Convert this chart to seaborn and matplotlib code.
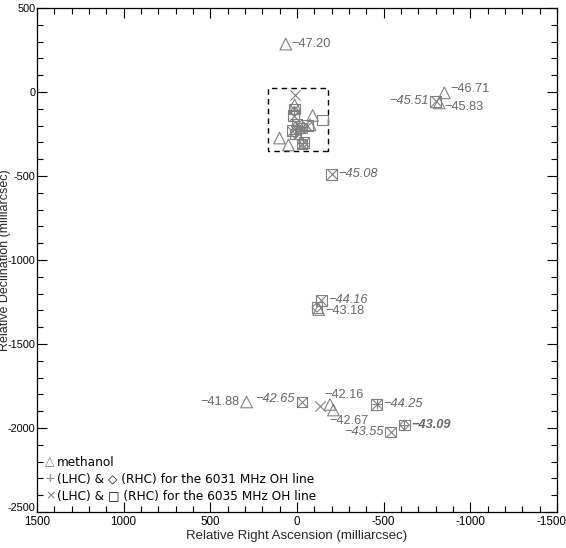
import numpy as np
import pandas as pd
import matplotlib
matplotlib.use("Agg")
import matplotlib.pyplot as plt
import seaborn as sns
from matplotlib.patches import Rectangle
from matplotlib.ticker import MultipleLocator
from matplotlib.transforms import ScaledTranslation

sns.set_theme(style="ticks")
plt.rcParams['font.family'] = ['Liberation Sans', 'DejaVu Sans']
plt.rcParams['axes.unicode_minus'] = False

GREY = '#808080'
TXT = '#666666'

# ---- methanol maser spots (triangles)
meth_x = [65, -850, -820, -125, 291, -190, -210, 14, -90, -75, 101, 49]
meth_y = [285, -5, -65, -1295, -1845, -1860, -1893, -77, -140, -195, -274, -315]

# ---- 6031 MHz OH: LHC (+) and RHC (diamond)
oh31_l_x = [-459, -620, 15, 5, -20, -40, 10, -35]
oh31_l_y = [-1860, -1982, -115, -205, -230, -210, -250, -305]
oh31_r_x = [-115, -620, 15, 5, -20, -40, 10, -35]
oh31_r_y = [-1282, -1982, -115, -205, -230, -210, -250, -305]

# ---- 6035 MHz OH: LHC (x) and RHC (square)
oh35_l_x = [9, -800, -200, -141, -29, -130, -459, -540, 15, 20, 0, -25, 30, -60, -40, -30]
oh35_l_y = [-18, -55, -490, -1240, -1845, -1869, -1860, -2024, -100, -140, -190, -215, -230, -200, -300, -310]
oh35_r_x = [-147, -800, -200, -141, -115, -29, -459, -540, -620, 15, 20, 0, -25, 30, -60, -40, -30, 10]
oh35_r_y = [-167, -55, -490, -1240, -1282, -1845, -1860, -2024, -1982, -100, -140, -190, -215, -230, -200, -300, -310, -250]

# ---- labels: text, x, y, dx, dy (points), ha, style, weight
lab_text = ['−47.20', '−46.71', '−45.83', '−45.51', '−45.08', '−44.16', '−43.18',
            '−41.88', '−42.65', '−42.16', '−42.67', '−43.55', '−44.25', '−43.09']
lab_x = [65, -850, -820, -800, -200, -141, -125, 291, -29, -190, -210, -540, -459, -620]
lab_y = [285, -5, -65, -55, -490, -1240, -1295, -1845, -1845, -1860, -1893, -2024, -1860, -1982]
lab_dx = [4, 4, 4, -5, 5, 5, 5, -5, -5, -4, -3, -5, 5, 5]
lab_dy = [0, 3, -3, 0, 0, 0, -1, 0, 2, 7, -8, 0, 0, 0]
lab_ha = ['left', 'left', 'left', 'right', 'left', 'left', 'left', 'right', 'right',
          'left', 'left', 'right', 'left', 'left']
lab_style = ['normal', 'normal', 'normal', 'italic', 'italic', 'italic', 'normal',
             'normal', 'italic', 'normal', 'normal', 'italic', 'italic', 'italic']
lab_weight = ['normal'] * 13 + ['bold']

# dashed box around central cluster
box_x0, box_x1 = 165, -180
box_y0, box_y1 = -350, 25

fig = plt.figure(figsize=(5.66, 5.48), dpi=100)
ax = fig.add_axes([37/566, 1 - 512/548, 520/566, 504/548])

lw = 0.8
sns.scatterplot(x=meth_x, y=meth_y, marker='^', s=70, facecolor='none',
                edgecolor=GREY, linewidth=lw, ax=ax, zorder=3)
sns.scatterplot(x=oh35_r_x, y=oh35_r_y, marker='s', s=58, facecolor='none',
                edgecolor=GREY, linewidth=lw, ax=ax, zorder=3)
sns.scatterplot(x=oh35_l_x, y=oh35_l_y, marker='x', s=55, color=GREY,
                linewidth=lw, ax=ax, zorder=3)
sns.scatterplot(x=oh31_r_x, y=oh31_r_y, marker='D', s=24, facecolor='none',
                edgecolor=GREY, linewidth=lw, ax=ax, zorder=3)
sns.scatterplot(x=oh31_l_x, y=oh31_l_y, marker='+', s=55, color=GREY,
                linewidth=lw, ax=ax, zorder=3)

for t, x, y, dx, dy, ha, st, wt in zip(lab_text, lab_x, lab_y, lab_dx, lab_dy,
                                        lab_ha, lab_style, lab_weight):
    ax.annotate(t, (x, y), xytext=(dx, dy), textcoords='offset points',
                ha=ha, va='center', fontsize=9.2, color=TXT, style=st, weight=wt)

ax.add_patch(Rectangle((box_x1, box_y0), box_x0 - box_x1, box_y1 - box_y0,
                       fill=False, edgecolor='black', linewidth=1.0,
                       linestyle=(0, (4, 3)), zorder=2))

ax.set_xlim(1500, -1500)
ax.set_ylim(-2500, 500)
ax.xaxis.set_major_locator(MultipleLocator(500))
ax.yaxis.set_major_locator(MultipleLocator(500))
ax.xaxis.set_minor_locator(MultipleLocator(100))
ax.yaxis.set_minor_locator(MultipleLocator(100))
ax.tick_params(which='both', direction='in', top=True, right=True,
               width=0.8, colors='black')
ax.tick_params(axis='y', pad=1.2, labelsize=7.8)
ax.tick_params(axis='x', pad=3, labelsize=8.4)
ax.tick_params(which='major', length=7)
ax.tick_params(which='minor', length=4)
for sp in ax.spines.values():
    sp.set_linewidth(0.9)
    sp.set_color('black')

ax.set_xlabel('Relative Right Ascension (milliarcsec)', fontsize=9.5, labelpad=1)
ax.set_ylabel('Relative Declination (milliarcsec)', fontsize=9)
ax.yaxis.set_label_coords((11 - 37) / 520, 0.5)

# nudge corner tick labels so they stay inside the figure and apart
fig.canvas.draw()
for lbl in ax.get_xticklabels():
    if lbl.get_text() == '-1500':
        lbl.set_transform(lbl.get_transform() +
                          ScaledTranslation(-6/100, 0, fig.dpi_scale_trans))
for lbl in ax.get_yticklabels():
    if lbl.get_text() == '-2500':
        lbl.set_transform(lbl.get_transform() +
                          ScaledTranslation(0, 5/100, fig.dpi_scale_trans))

# legend (text lines)
leg_sym = ['△', '+', '×']
leg_rest = ['methanol',
            '(LHC) & ◇ (RHC) for the 6031 MHz OH line',
            '(LHC) & □ (RHC) for the 6035 MHz OH line']
leg_y = [0.099, 0.0655, 0.0317]
for s, r, y in zip(leg_sym, leg_rest, leg_y):
    ax.text(0.015, y, s, transform=ax.transAxes, fontsize=9, color=GREY,
            family='DejaVu Sans', va='center')
    ax.annotate(r, (0.015, y), xycoords='axes fraction', xytext=(9, 0),
                textcoords='offset points', fontsize=8.7, color='black',
                family=['DejaVu Sans'], va='center')

fig.savefig('out.png', dpi=100)
